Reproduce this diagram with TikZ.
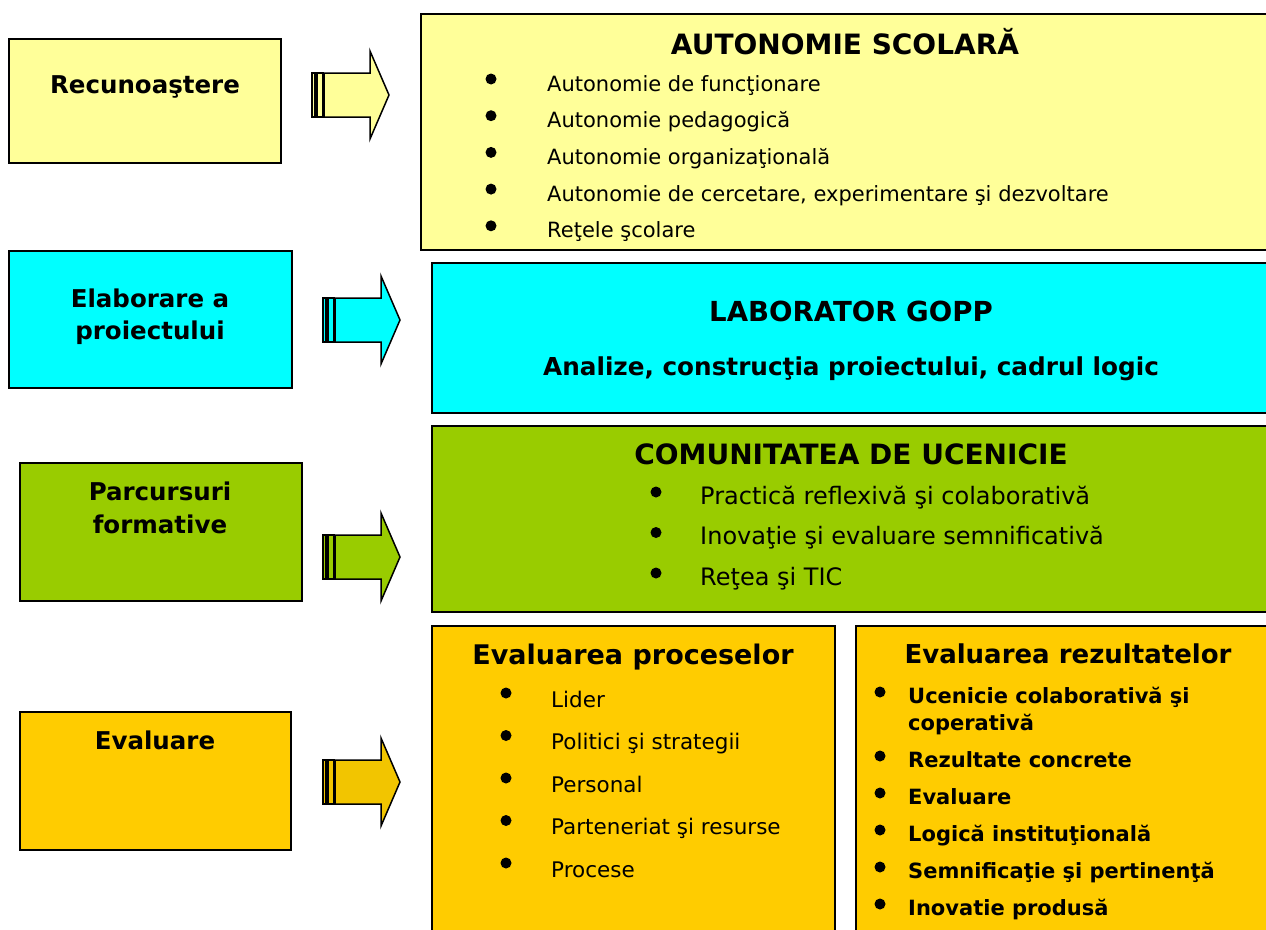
\documentclass[tikz,border=0pt]{standalone}
\usepackage{fontspec}
\setmainfont{DejaVu Sans}
\usepackage{xcolor}
\definecolor{colorPale}{HTML}{FFFF99}
\definecolor{colorCyan}{HTML}{00FFFF}
\definecolor{colorLime}{HTML}{99CC00}
\definecolor{colorGold}{HTML}{FFCC00}
\definecolor{colorGoldArrow}{HTML}{F2C500}
\usetikzlibrary{positioning}
\tikzset{
  box/.style={draw=black, line width=2.2pt, anchor=north west, inner sep=0pt, outer sep=0pt},
  label/.style={font=\bfseries\fontsize{24.5}{24.5}\selectfont, anchor=base, inner sep=0pt},
  heading/.style={font=\bfseries\fontsize{28}{28}\selectfont, anchor=base, inner sep=0pt},
  item/.style={font=\fontsize{21}{21}\selectfont, anchor=base west, inner sep=0pt},
  bolditem/.style={font=\bfseries\fontsize{21}{21}\selectfont, anchor=base west, inner sep=0pt},
  dot/.style={fill=black},
}
% block arrow: tip x, tip y, fill colour
\newcommand{\fatArrow}[3]{%
  \draw[line width=1.5pt, fill=#3] (#1-77,#2-22) rectangle (#1-74,#2+22);
  \draw[line width=1.5pt, fill=#3] (#1-72,#2-22) rectangle (#1-66,#2+22);
  \draw[line width=1.5pt, fill=#3, line join=miter] (#1-65,#2-22) -- (#1-19,#2-22) -- (#1-19,#2-44)
    -- (#1,#2) -- (#1-19,#2+44) -- (#1-19,#2+22) -- (#1-65,#2+22) -- cycle;
}

\begin{document}
\begin{tikzpicture}[x=1pt, y=-1pt]
\clip (0,0) rectangle (1266,929);
\useasboundingbox (0,0) rectangle (1266,929);

% left column
\node[box, fill=colorPale, minimum width=272, minimum height=124] (rec) at (9,39) {};
\node[box, fill=colorCyan, minimum width=283, minimum height=137] (elab) at (9,251) {};
\node[box, fill=colorLime, minimum width=282, minimum height=138] (parc) at (20,463) {};
\node[box, fill=colorGold, minimum width=271, minimum height=138] (eval) at (20,712) {};

\node[label] (rec-t) at (145,93) {Recunoaştere};
\node[label] (elab-t1) at (150,307) {Elaborare a};
\node[label] (elab-t2) at (150,339) {proiectului};
\node[label] (parc-t1) at (160,500) {Parcursuri};
\node[label] (parc-t2) at (160,533) {formative};
\node[label] (eval-t) at (155,749) {Evaluare};

% arrows
\fatArrow{389}{95}{colorPale}
\fatArrow{400}{320}{colorCyan}
\fatArrow{400}{557}{colorLime}
\fatArrow{400}{782}{colorGoldArrow}

% right column
\node[box, fill=colorPale, minimum width=870, minimum height=236] (aut) at (421,14) {};
\node[box, fill=colorCyan, minimum width=860, minimum height=150] (lab) at (432,263) {};
\node[box, fill=colorLime, minimum width=860, minimum height=186] (com) at (432,426) {};
\node[box, fill=colorGold, minimum width=403, minimum height=330] (proc) at (432,626) {};
\node[box, fill=colorGold, minimum width=430, minimum height=330] (rez) at (856,626) {};

\node[heading] (aut-t) at (845,54) {AUTONOMIE SCOLARĂ};
\foreach \txt [count=\i] in {Autonomie de funcţionare, Autonomie pedagogică,
    Autonomie organizaţională, {Autonomie de cercetare, experimentare şi dezvoltare},
    Reţele şcolare} {
  \fill[dot] (491,{91+36.7*(\i-1)-12}) circle (5.5);
  \node[item] (aut-\i) at (547,{91+36.7*(\i-1)}) {\txt};
}

\node[heading, font=\bfseries\fontsize{27.6}{27.6}\selectfont] (lab-t) at (851,321) {LABORATOR GOPP};
\node[label, font=\bfseries\fontsize{24.7}{24.7}\selectfont] (lab-s) at (851,375) {Analize, construcţia proiectului, cadrul logic};

\node[heading] (com-t) at (851,464) {COMUNITATEA DE UCENICIE};
\foreach \txt [count=\i] in {Practică reflexivă şi colaborativă,
    Inovaţie şi evaluare semnificativă, Reţea şi TIC} {
  \fill[dot] (656,{504+40.5*(\i-1)-12}) circle (5.5);
  \node[item, font=\fontsize{24}{24}\selectfont] (com-\i) at (700,{504+40.5*(\i-1)}) {\txt};
}

\node[heading, font=\bfseries\fontsize{27}{27}\selectfont] (proc-t) at (633,664) {Evaluarea proceselor};
\foreach \txt [count=\i] in {Lider, Politici şi strategii, Personal,
    Parteneriat şi resurse, Procese} {
  \fill[dot] (506,{707+42.5*(\i-1)-14}) circle (5.5);
  \node[item, font=\fontsize{21.5}{21.5}\selectfont] (proc-\i) at (551,{707+42.5*(\i-1)}) {\txt};
}

\node[heading, font=\bfseries\fontsize{26}{26}\selectfont] (rez-t) at (1068,663) {Evaluarea rezultatelor};
\fill[dot] (880,692) circle (5.5);
\node[bolditem] (rez-1a) at (908,703) {Ucenicie colaborativă şi};
\node[bolditem] (rez-1b) at (908,730) {coperativă};
\foreach \txt [count=\i] in {Rezultate concrete, Evaluare, Logică instituţională,
    Semnificaţie şi pertinenţă, Inovatie produsă} {
  \fill[dot] (880,{767+37*(\i-1)-11}) circle (5.5);
  \node[bolditem] (rez-\i) at (908,{767+37*(\i-1)}) {\txt};
}
\end{tikzpicture}
\end{document}
